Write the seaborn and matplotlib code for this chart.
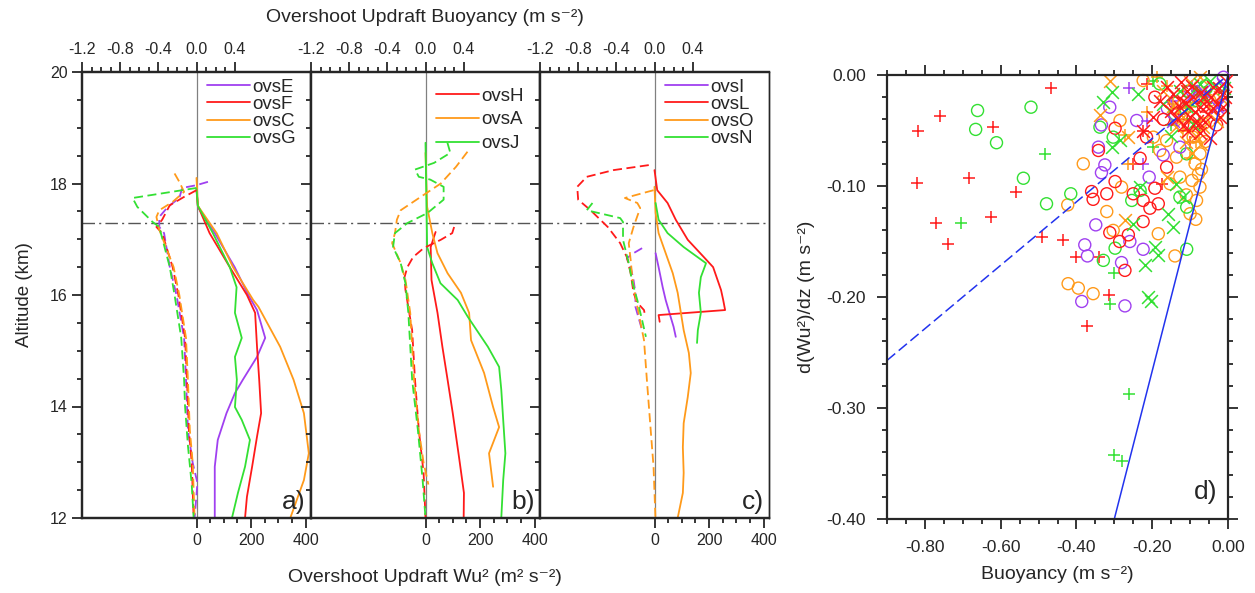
import numpy as np
import pandas as pd
import seaborn as sns
import matplotlib
matplotlib.use("Agg")
from matplotlib import pyplot as plt
import matplotlib.ticker as mtick

sns.set_style("ticks")
plt.rcParams["font.family"] = ["Liberation Sans", "DejaVu Sans"]
plt.rcParams["axes.unicode_minus"] = False

RED = "#ff1a1a"
ORANGE = "#ff9a1a"
GREEN = "#33e033"
PURPLE = "#a040f0"

# ---------------- panels a-c: profiles (altitude km vs value) ----------------
# solid = Wu^2 (m2 s-2), dashed = buoyancy (m s-2)
ovsE_alt = [17.92, 17.58, 17.11, 16.5, 16.0, 15.73, 15.23, 14.89, 14.48, 14.24, 13.88, 13.40, 12.92, 12.0]
ovsE_wu = [0, 5, 67, 140, 190, 222, 252, 222, 170, 141, 110, 78, 67, 67]
ovsE_b_alt = [18.03, 17.97, 17.92, 17.74, 17.58, 17.40, 17.22, 17.11, 16.5, 16.0, 15.23, 14.48, 13.58, 12.99, 12.63, 12.0]
ovsE_b = [0.12, 0.0, -0.15, -0.18, -0.30, -0.39, -0.39, -0.34, -0.28, -0.21, -0.13, -0.11, -0.09, -0.04, 0.01, -0.02]

ovsF_alt = [17.88, 17.6, 17.11, 16.5, 16.0, 15.68, 15.07, 14.48, 13.88, 13.46, 12.92, 12.38, 12.0]
ovsF_wu = [0, 5, 48, 122, 185, 215, 222, 230, 237, 222, 204, 185, 178]
ovsF_b_alt = [17.88, 17.76, 17.61, 17.35, 17.22, 17.11, 16.5, 16.0, 15.23, 14.48, 13.58, 12.99, 12.0]
ovsF_b = [0.0, -0.13, -0.28, -0.36, -0.42, -0.36, -0.25, -0.19, -0.12, -0.10, -0.08, -0.05, -0.03]

ovsC_alt = [18.1, 17.6, 17.11, 16.5, 15.91, 15.79, 15.07, 14.48, 13.88, 13.16, 12.68, 12.0]
ovsC_wu = [0, 5, 74, 134, 208, 227, 307, 356, 394, 412, 394, 344]
ovsC_b_alt = [18.18, 18.03, 17.85, 17.67, 17.52, 17.40, 17.17, 16.5, 16.0, 15.23, 14.48, 13.58, 12.99, 12.0]
ovsC_b = [-0.23, -0.18, -0.13, -0.25, -0.39, -0.42, -0.39, -0.24, -0.18, -0.11, -0.09, -0.07, -0.04, -0.02]

ovsG_alt = [17.9, 17.6, 17.11, 16.5, 16.14, 15.68, 15.23, 14.89, 14.48, 13.99, 13.76, 13.40, 12.92, 12.45, 12.0]
ovsG_wu = [0, 5, 60, 122, 147, 141, 166, 141, 148, 141, 166, 196, 178, 152, 130]
ovsG_b_alt = [17.92, 17.74, 17.58, 17.31, 17.22, 16.5, 16.0, 15.23, 14.48, 14.0, 13.3, 12.6, 12.0]
ovsG_b = [0.0, -0.67, -0.62, -0.46, -0.39, -0.28, -0.23, -0.16, -0.13, -0.12, -0.09, -0.05, -0.03]

ovsH_alt = [17.13, 16.86, 16.27, 15.68, 15.07, 14.48, 13.88, 13.09, 12.45, 12.0]
ovsH_wu = [37, 19, 22, 44, 62, 81, 100, 123, 141, 140]
ovsH_b_alt = [17.22, 17.11, 16.99, 16.84, 16.68, 16.5, 16.32, 16.09, 15.37, 14.48, 13.58, 12.81, 12.0]
ovsH_b = [0.30, 0.28, 0.16, -0.02, -0.13, -0.19, -0.22, -0.21, -0.14, -0.11, -0.07, -0.02, 0.0]

ovsA_alt = [18.55, 17.58, 17.11, 16.75, 16.39, 16.04, 15.68, 15.19, 14.6, 13.99, 13.63, 13.16, 12.56]
ovsA_wu = [0, 6, 25, 44, 81, 130, 160, 167, 215, 248, 270, 233, 248]
ovsA_b_alt = [18.57, 18.30, 18.0, 17.76, 17.52, 17.35, 17.11, 16.93, 16.57, 16.27, 15.68, 14.48, 13.58, 12.99, 12.68, 12.6]
ovsA_b = [0.44, 0.32, 0.16, -0.05, -0.26, -0.30, -0.32, -0.35, -0.26, -0.21, -0.16, -0.12, -0.07, -0.02, 0.02, 0.03]

ovsJ_alt = [18.73, 16.86, 16.57, 16.21, 15.91, 15.61, 15.07, 14.71, 14.3, 13.76, 13.16, 12.68, 12.0]
ovsJ_wu = [0, 6, 25, 55, 118, 155, 229, 270, 278, 285, 293, 285, 278]
ovsJ_b_alt = [18.73, 18.55, 18.37, 18.25, 18.12, 18.07, 17.94, 17.71, 17.47, 17.29, 17.11, 16.86, 16.57, 16.21, 15.68, 14.48, 13.58, 12.68, 12.0]
ovsJ_b = [0.23, 0.26, 0.09, -0.11, -0.07, 0.05, 0.19, 0.19, 0.02, -0.19, -0.32, -0.34, -0.26, -0.21, -0.18, -0.14, -0.08, -0.03, 0.0]

ovsI_alt = [16.75, 16.5, 16.14, 15.91, 15.61, 15.43, 15.25]
ovsI_wu = [4, 15, 30, 41, 59, 70, 78]
ovsI_b_alt = [16.84, 16.75, 16.66, 16.5, 16.27, 16.04, 15.79, 15.61, 15.37]
ovsI_b = [-0.13, -0.22, -0.29, -0.25, -0.22, -0.20, -0.20, -0.17, -0.13]

ovsL_alt = [18.24, 17.88, 17.65, 17.35, 16.99, 16.68, 16.5, 16.09, 15.91, 15.73, 15.64, 15.52]
ovsL_wu = [0, 10, 48, 78, 122, 181, 215, 244, 252, 259, 15, 19]
ovsL_b_alt = [18.33, 18.24, 18.12, 17.94, 17.71, 17.52, 17.22, 16.93, 16.68, 16.39, 16.04, 15.86, 15.73, 15.64]
ovsL_b = [-0.06, -0.43, -0.71, -0.81, -0.80, -0.67, -0.49, -0.36, -0.29, -0.25, -0.22, -0.18, -0.11, -0.10]

ovsO_alt = [17.94, 17.47, 17.11, 16.75, 16.39, 16.04, 15.37, 14.96, 14.6, 14.17, 13.7, 13.27, 12.81, 12.45, 12.0]
ovsO_wu = [0, 4, 15, 41, 67, 85, 107, 126, 133, 122, 107, 104, 107, 104, 85]
ovsO_b_alt = [17.88, 17.74, 17.65, 17.56, 17.22, 16.93, 16.63, 16.27, 15.79, 15.19, 14.48, 13.58, 12.92, 12.0]
ovsO_b = [-0.01, -0.31, -0.18, -0.15, -0.22, -0.27, -0.25, -0.23, -0.18, -0.11, -0.08, -0.04, -0.01, 0.01]

ovsN_alt = [17.65, 17.35, 17.11, 16.86, 16.57, 16.32, 16.04, 15.68, 15.37, 15.14]
ovsN_wu = [4, 15, 48, 107, 189, 170, 163, 170, 159, 156]
ovsN_b_alt = [17.65, 17.52, 17.38, 17.31, 16.99, 16.57, 16.21, 15.91, 15.55, 15.25]
ovsN_b = [-0.65, -0.71, -0.36, -0.33, -0.33, -0.27, -0.23, -0.18, -0.13, -0.09]

tropopause_km = 17.3

panels = [
    ("a)", [("ovsE", PURPLE, ovsE_alt, ovsE_wu, ovsE_b_alt, ovsE_b),
            ("ovsF", RED, ovsF_alt, ovsF_wu, ovsF_b_alt, ovsF_b),
            ("ovsC", ORANGE, ovsC_alt, ovsC_wu, ovsC_b_alt, ovsC_b),
            ("ovsG", GREEN, ovsG_alt, ovsG_wu, ovsG_b_alt, ovsG_b)], 0.0),
    ("b)", [("ovsH", RED, ovsH_alt, ovsH_wu, ovsH_b_alt, ovsH_b),
            ("ovsA", ORANGE, ovsA_alt, ovsA_wu, ovsA_b_alt, ovsA_b),
            ("ovsJ", GREEN, ovsJ_alt, ovsJ_wu, ovsJ_b_alt, ovsJ_b)], 0.35),
    ("c)", [("ovsI", PURPLE, ovsI_alt, ovsI_wu, ovsI_b_alt, ovsI_b),
            ("ovsL", RED, ovsL_alt, ovsL_wu, ovsL_b_alt, ovsL_b),
            ("ovsO", ORANGE, ovsO_alt, ovsO_wu, ovsO_b_alt, ovsO_b),
            ("ovsN", GREEN, ovsN_alt, ovsN_wu, ovsN_b_alt, ovsN_b)], 0.0),
]

# ---------------- panel d: scatter (buoyancy, dWu2/dz) ----------------
red_plus_b = [-0.818, -0.759, -0.820, -0.771, -0.738, -0.683, -0.621, -0.626, -0.560, -0.467, -0.492, -0.435, -0.400, -0.341, -0.314, -0.373, -0.215, -0.100, -0.175, -0.250, -0.224, -0.130, -0.060]
red_plus_d = [-0.050, -0.037, -0.097, -0.133, -0.152, -0.093, -0.047, -0.128, -0.105, -0.012, -0.146, -0.149, -0.164, -0.164, -0.198, -0.226, -0.008, -0.060, -0.098, -0.080, -0.050, -0.035, -0.015]
green_plus_b = [-0.705, -0.482, -0.312, -0.300, -0.261, -0.300, -0.279, -0.199, -0.197, -0.083, -0.150, -0.110]
green_plus_d = [-0.133, -0.071, -0.206, -0.178, -0.287, -0.342, -0.348, -0.005, -0.065, -0.014, -0.045, -0.030]
purple_plus_b = [-0.260, -0.215, -0.224, -0.149, -0.095]
purple_plus_d = [-0.012, -0.041, -0.080, -0.023, -0.010]
orange_plus_b = [-0.100, -0.263, -0.215, -0.144, -0.118, -0.188, -0.074, -0.272, -0.085, -0.120, -0.160, -0.060, -0.100]
orange_plus_d = [-0.029, -0.080, -0.033, -0.026, -0.014, -0.002, -0.041, -0.054, -0.060, -0.050, -0.010, -0.020, -0.075]

red_x_b = [-0.109, -0.092, -0.074, -0.052, -0.048, -0.030, -0.017, -0.127, -0.083, -0.144, -0.162, -0.180, -0.100, -0.065, -0.039, -0.118, -0.021, -0.012, -0.224, -0.197,
           -0.135, -0.110, -0.095, -0.080, -0.070, -0.058, -0.045, -0.025, -0.008, -0.150, -0.125, -0.105, -0.088, -0.062, -0.040, -0.005, -0.115, -0.075]
red_x_d = [-0.014, -0.020, -0.029, -0.035, -0.057, -0.026, -0.017, -0.029, -0.041, -0.017, -0.011, -0.023, -0.038, -0.020, -0.011, -0.023, -0.038, -0.029, -0.050, -0.038,
           -0.040, -0.025, -0.010, -0.045, -0.015, -0.028, -0.020, -0.012, -0.020, -0.032, -0.006, -0.050, -0.033, -0.042, -0.030, -0.005, -0.045, -0.052]
orange_x_b = [-0.312, -0.338, -0.263, -0.272, -0.100, -0.092, -0.118, -0.039, -0.162, -0.074, -0.136, -0.065, -0.171, -0.030,
              -0.110, -0.085, -0.055, -0.020, -0.145, -0.095, -0.070]
orange_x_d = [-0.005, -0.036, -0.056, -0.131, -0.006, -0.023, -0.038, -0.032, -0.092, -0.002, -0.047, -0.047, -0.014, -0.041,
              -0.060, -0.055, -0.015, -0.020, -0.028, -0.070, -0.062]
green_x_b = [-0.307, -0.237, -0.329, -0.307, -0.285, -0.232, -0.250, -0.158, -0.144, -0.193, -0.184, -0.219, -0.210, -0.202, -0.136, -0.074, -0.048, -0.127, -0.092, -0.171, -0.061,
             -0.105, -0.085, -0.035, -0.150, -0.118, -0.010]
green_x_d = [-0.015, -0.017, -0.024, -0.065, -0.059, -0.101, -0.134, -0.125, -0.137, -0.155, -0.162, -0.171, -0.200, -0.204, -0.098, -0.008, -0.005, -0.014, -0.044, -0.026, -0.020,
             -0.030, -0.012, -0.010, -0.055, -0.110, -0.012]
purple_x_b = [-0.012, -0.030, -0.065, -0.144, -0.100]
purple_x_d = [-0.008, -0.029, -0.014, -0.041, -0.020]

green_o_b = [-0.661, -0.666, -0.611, -0.520, -0.540, -0.479, -0.415, -0.329, -0.298, -0.109, -0.254, -0.109, -0.109, -0.232, -0.127, -0.180, -0.083, -0.338, -0.303, -0.060, -0.140]
green_o_d = [-0.032, -0.049, -0.061, -0.029, -0.093, -0.116, -0.107, -0.167, -0.156, -0.157, -0.113, -0.119, -0.071, -0.104, -0.110, -0.008, -0.023, -0.047, -0.056, -0.010, -0.035]
orange_o_b = [-0.423, -0.382, -0.422, -0.395, -0.356, -0.320, -0.184, -0.140, -0.087, -0.078, -0.074, -0.083, -0.100, -0.162, -0.136, -0.285, -0.224, -0.065, -0.074, -0.127, -0.153, -0.281, -0.303, -0.197, -0.092, -0.048,
              -0.095, -0.070, -0.110, -0.060, -0.180, -0.120, -0.085, -0.105]
orange_o_d = [-0.117, -0.080, -0.188, -0.192, -0.197, -0.123, -0.143, -0.163, -0.080, -0.089, -0.101, -0.113, -0.125, -0.059, -0.074, -0.041, -0.005, -0.044, -0.071, -0.092, -0.098, -0.101, -0.140, -0.056, -0.056, -0.023,
              -0.095, -0.085, -0.108, -0.060, -0.068, -0.035, -0.130, -0.045]
purple_o_b = [-0.312, -0.334, -0.342, -0.325, -0.334, -0.208, -0.171, -0.349, -0.378, -0.371, -0.281, -0.224, -0.259, -0.386, -0.272, -0.241, -0.127, -0.012, -0.013, -0.160]
purple_o_d = [-0.029, -0.045, -0.065, -0.081, -0.088, -0.092, -0.072, -0.135, -0.153, -0.163, -0.169, -0.157, -0.150, -0.204, -0.208, -0.041, -0.065, -0.002, -0.027, -0.030]
red_o_b = [-0.360, -0.356, -0.320, -0.298, -0.250, -0.224, -0.206, -0.184, -0.193, -0.232, -0.162, -0.224, -0.312, -0.286, -0.263, -0.272, -0.298, -0.342, -0.193, -0.215, -0.092, -0.065, -0.030,
           -0.140, -0.120, -0.170, -0.105]
red_o_d = [-0.105, -0.112, -0.107, -0.096, -0.107, -0.113, -0.120, -0.116, -0.102, -0.075, -0.083, -0.132, -0.142, -0.150, -0.144, -0.176, -0.048, -0.068, -0.020, -0.056, -0.038, -0.028, -0.045,
           -0.025, -0.045, -0.040, -0.015]

dashed_slope = 0.2857
solid_slope = 1.333

fig = plt.figure(figsize=(12.55, 5.93), dpi=100)

W, H = 1255, 593
lefts = [82, 311, 540]
pw = 229
bot, top = 518, 72
tick_kw = dict(direction="out", length=7, width=1.3, labelsize=11.5)

for i, (lab, series, legy) in enumerate(panels):
    ax = fig.add_axes([lefts[i] / W, 1 - bot / H, pw / W, (bot - top) / H])
    axt = ax.twiny()
    for name, col, alt, wu, balt, b in series:
        sns.lineplot(x=wu, y=alt, sort=False, estimator=None, color=col, lw=1.3, ax=ax, label=name)
        sns.lineplot(x=b, y=balt, sort=False, estimator=None, color=col, lw=1.3, ls=(0, (5, 2.5)), ax=axt)
    ax.set_xlim(-420, 420)
    axt.set_xlim(-1.2, 1.2)
    ax.set_ylim(12, 20)
    ax.axvline(0, color="gray", lw=0.9, zorder=0)
    ax.axhline(tropopause_km, color="#555555", lw=1.0, ls=(0, (9, 3, 1.5, 3)), zorder=0)
    ax.xaxis.set_major_locator(mtick.FixedLocator([0, 200, 400]))
    ax.xaxis.set_minor_locator(mtick.FixedLocator(np.arange(0, 401, 50)))
    axt.xaxis.set_major_locator(mtick.FixedLocator([-1.2, -0.8, -0.4, 0.0, 0.4]))
    axt.xaxis.set_minor_locator(mtick.FixedLocator(np.arange(-1.2, 0.45, 0.1)))
    axt.xaxis.set_major_formatter(mtick.FormatStrFormatter("%.1f"))
    ax.yaxis.set_major_locator(mtick.MultipleLocator(2))
    ax.yaxis.set_minor_locator(mtick.MultipleLocator(0.5))
    ax.tick_params(which="both", **tick_kw)
    ax.tick_params(which="minor", length=3.5)
    axt.tick_params(which="both", **tick_kw)
    axt.tick_params(which="minor", length=3.5)
    ax.set_xlabel("")
    ax.set_ylabel("")
    axt.set_xlabel("")
    if i > 0:
        ax.tick_params(axis="y", labelleft=False)
    for sp in ["left", "top", "bottom"]:
        ax.spines[sp].set_linewidth(1.6)
        axt.spines[sp].set_linewidth(1.6)
    ax.spines["right"].set_linewidth(1.0 if i == 2 else 1.6)
    axt.spines["right"].set_linewidth(1.0 if i == 2 else 1.6)
    ax.text(0.978, 0.036, lab, transform=ax.transAxes, ha="right", va="center", fontsize=19)
    ax.legend(loc="upper left", bbox_to_anchor=(0.545, 0.985 - (0.02 if i == 1 else 0)),
              frameon=False, handlelength=2.3, handletextpad=0.1, borderaxespad=0,
              borderpad=0, labelspacing=legy, fontsize=13.5)
    if i == 0:
        ax.set_ylabel("Altitude (km)", fontsize=13.5, labelpad=12)

fig.text(425 / W, 1 - 17 / H, "Overshoot Updraft Buoyancy (m s⁻²)", ha="center", va="center", fontsize=14)
fig.text(425 / W, 1 - 577 / H, "Overshoot Updraft Wu² (m² s⁻²)", ha="center", va="center", fontsize=14)

# panel d
axd = fig.add_axes([887 / W, 1 - 519 / H, 341 / W, 444 / H])
groups = [
    (red_plus_b, red_plus_d, RED, "+"), (green_plus_b, green_plus_d, GREEN, "+"),
    (purple_plus_b, purple_plus_d, PURPLE, "+"), (orange_plus_b, orange_plus_d, ORANGE, "+"),
    (orange_o_b, orange_o_d, ORANGE, "o"), (green_o_b, green_o_d, GREEN, "o"),
    (purple_o_b, purple_o_d, PURPLE, "o"), (red_o_b, red_o_d, RED, "o"),
    (orange_x_b, orange_x_d, ORANGE, "x"), (green_x_b, green_x_d, GREEN, "x"),
    (purple_x_b, purple_x_d, PURPLE, "x"), (red_x_b, red_x_d, RED, "x"),
]
for bx, dy, col, mk in groups:
    if mk == "o":
        sns.scatterplot(x=bx, y=dy, marker="o", s=75, facecolor="none", edgecolor=col, linewidth=1.0, ax=axd, clip_on=False)
    else:
        sns.scatterplot(x=bx, y=dy, marker=mk, s=85, color=col, linewidth=1.1, ax=axd, clip_on=False)

xd = np.array([-0.9, 0.0])
sns.lineplot(x=xd, y=dashed_slope * xd, color="#2233ee", lw=1.1, ls=(0, (7, 3)), ax=axd)
xs = np.array([-0.4 / solid_slope, 0.0])
sns.lineplot(x=xs, y=solid_slope * xs, color="#2233ee", lw=1.1, ax=axd)

axd.set_xlim(-0.9, 0.0)
axd.set_ylim(-0.4, 0.0)
axd.xaxis.set_major_locator(mtick.MultipleLocator(0.2))
axd.xaxis.set_minor_locator(mtick.MultipleLocator(0.05))
axd.yaxis.set_major_locator(mtick.MultipleLocator(0.1))
axd.yaxis.set_minor_locator(mtick.MultipleLocator(0.02))
axd.xaxis.set_major_formatter(mtick.FormatStrFormatter("%.2f"))
axd.yaxis.set_major_formatter(mtick.FormatStrFormatter("%.2f"))
axd.tick_params(which="both", top=True, right=True, **tick_kw)
axd.tick_params(which="major", labelsize=12.5, pad=8)
axd.tick_params(which="minor", length=3.5)
for sp in axd.spines.values():
    sp.set_linewidth(1.6)
axd.set_xlabel("Buoyancy (m s⁻²)", fontsize=14, labelpad=8)
axd.set_ylabel("d(Wu²)/dz (m s⁻²)", fontsize=14, labelpad=8)
axd.text(0.97, 0.06, "d)", transform=axd.transAxes, ha="right", va="center", fontsize=19)

fig.savefig("out.png", dpi=100)
